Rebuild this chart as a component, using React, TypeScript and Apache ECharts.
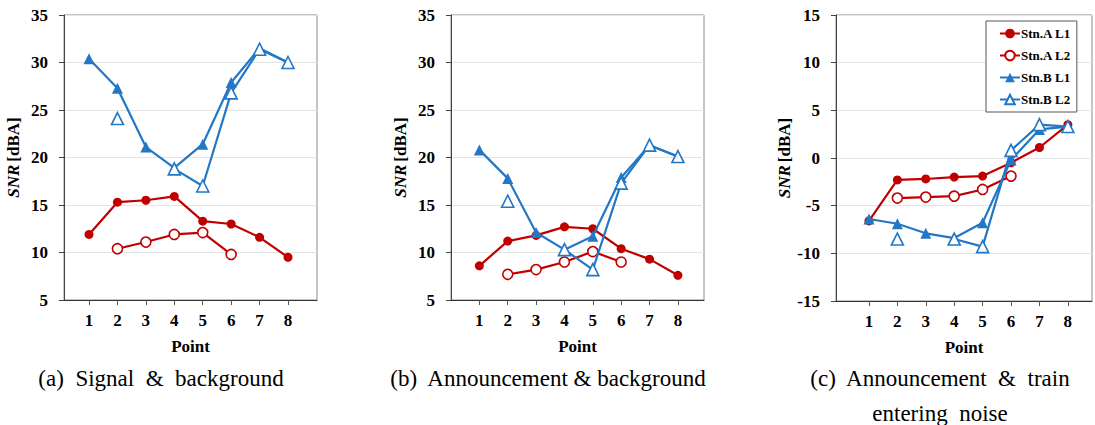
import React, { useEffect, useRef } from 'react';
import * as echarts from 'echarts';

const POINTS = [1, 2, 3, 4, 5, 6, 7, 8];
const SERIES_NAMES = ['Stn.A L1', 'Stn.A L2', 'Stn.B L1', 'Stn.B L2'];

// (a) Signal & background
const A_STN_A_L1 = [11.9, 15.3, 15.5, 15.9, 13.3, 13.0, 11.6, 9.5];
const A_STN_A_L2 = [null, 10.4, 11.1, 11.9, 12.1, 9.8, null, null];
const A_STN_B_L1 = [30.4, 27.3, 21.1, 18.9, 21.4, 27.9, 31.5, 30.0];
const A_STN_B_L2 = [null, 24.1, null, 18.8, 17.0, 26.8, 31.4, 30.0];

// (b) Announcement & background
const B_STN_A_L1 = [8.6, 11.2, 11.8, 12.7, 12.5, 10.4, 9.3, 7.6];
const B_STN_A_L2 = [null, 7.7, 8.2, 9.0, 10.1, 9.0, null, null];
const B_STN_B_L1 = [20.8, 17.8, 12.1, 10.3, 11.7, 17.9, 21.3, 20.1];
const B_STN_B_L2 = [null, 15.4, null, 10.3, 8.2, 17.3, 21.3, 20.1];

// (c) Announcement & train entering noise
const C_STN_A_L1 = [-6.6, -2.3, -2.2, -2.0, -1.9, -0.5, 1.1, 3.5];
const C_STN_A_L2 = [null, -4.2, -4.1, -4.0, -3.3, -1.9, null, null];
const C_STN_B_L1 = [-6.4, -6.9, -7.9, -8.4, -6.8, -0.2, 3.0, 3.3];
const C_STN_B_L2 = [null, -8.5, null, -8.5, -9.3, 0.8, 3.5, 3.3];

const PANEL_DATA = [
  [A_STN_A_L1, A_STN_A_L2, A_STN_B_L1, A_STN_B_L2],
  [B_STN_A_L1, B_STN_A_L2, B_STN_B_L1, B_STN_B_L2],
  [C_STN_A_L1, C_STN_A_L2, C_STN_B_L1, C_STN_B_L2],
];

const Y_MIN = [5, 5, -15];
const Y_MAX = [35, 35, 15];
const Y_INTERVAL = 5;

const X_NAME = 'Point';
const Y_NAME = '{i|SNR} {n|[dBA]}';
const CAPTIONS = [
  ['(a)  Signal  &  background'],
  ['(b)  Announcement & background'],
  ['(c)  Announcement  &  train', 'entering  noise'],
];

const RED = '#C00000';
const BLUE = '#2277C6';
const FONT = 'Times New Roman, Liberation Serif, serif';

const LAYOUT = [
  { left: 64, top: 15, width: 253, height: 285, xMin: 0.12, xMax: 9.02, cx: 161 },
  { left: 451, top: 15, width: 253, height: 285, xMin: 0.0, xMax: 8.92, cx: 548 },
  { left: 836, top: 15, width: 256, height: 286, xMin: -0.16, xMax: 8.85, cx: 940 },
];

const STYLES = [
  { color: RED, symbol: 'circle', size: 9, filled: true },
  { color: RED, symbol: 'circle', size: 10, filled: false },
  { color: BLUE, symbol: 'triangle', size: 11, filled: true },
  { color: BLUE, symbol: 'triangle', size: 12, filled: false },
];

export default function App() {
  const ref = useRef<HTMLDivElement>(null);

  useEffect(() => {
    if (!ref.current) return;
    const chart = echarts.init(ref.current, undefined, { renderer: 'svg' });

    const grid = LAYOUT.map((l) => ({
      left: l.left,
      top: l.top,
      width: l.width,
      height: l.height,
      show: true,
      borderColor: '#8a8a8a',
      borderWidth: 1,
      backgroundColor: '#fff',
    }));

    const xAxis = LAYOUT.map((l, i) => ({
      type: 'value',
      gridIndex: i,
      min: l.xMin,
      max: l.xMax,
      name: X_NAME,
      nameLocation: 'middle',
      nameGap: 38,
      nameTextStyle: { fontFamily: FONT, fontWeight: 'bold', fontSize: 17, color: '#000' },
      axisLine: { show: true, onZero: false, lineStyle: { color: '#333', width: 1 } },
      axisTick: {
        show: true,
        inside: false,
        length: 5,
        customValues: POINTS,
        lineStyle: { color: '#555' },
      },
      axisLabel: {
        customValues: POINTS,
        margin: 12,
        fontFamily: FONT,
        fontWeight: 'bold',
        fontSize: 17,
        color: '#000',
      },
      splitLine: { show: false },
    }));

    const yAxis = LAYOUT.map((l, i) => ({
      type: 'value',
      gridIndex: i,
      min: Y_MIN[i],
      max: Y_MAX[i],
      interval: Y_INTERVAL,
      name: Y_NAME,
      nameLocation: 'middle',
      nameGap: 42,
      nameTextStyle: {
        rich: {
          i: { fontFamily: FONT, fontWeight: 'bold', fontStyle: 'italic', fontSize: 17, color: '#000' },
          n: { fontFamily: FONT, fontWeight: 'bold', fontSize: 17, color: '#000' },
        },
      },
      axisLine: { show: true, onZero: false, lineStyle: { color: '#444', width: 1 } },
      axisTick: { show: true, inside: false, length: 5, lineStyle: { color: '#444' } },
      axisLabel: {
        margin: 16,
        fontFamily: FONT,
        fontWeight: 'bold',
        fontSize: 17,
        color: '#000',
      },
      splitLine: { show: true, lineStyle: { color: '#e4e4e4', width: 1 } },
    }));

    const series: any[] = [];
    PANEL_DATA.forEach((panel, gi) => {
      panel.forEach((vals, si) => {
        const st = STYLES[si];
        series.push({
          type: 'line',
          name: SERIES_NAMES[si],
          xAxisIndex: gi,
          yAxisIndex: gi,
          data: POINTS.map((p, k) => [p, vals[k] == null ? '-' : vals[k]]),
          connectNulls: false,
          symbol: st.symbol,
          symbolSize: st.size,
          showAllSymbol: true,
          lineStyle: { color: st.color, width: 2.2 },
          itemStyle: {
            color: st.filled ? st.color : '#fff',
            borderColor: st.color,
            borderWidth: st.filled ? 0 : 1.6,
          },
          emphasis: { disabled: true },
          z: 2 + si,
        });
      });
    });

    const graphic: any[] = [];
    CAPTIONS.forEach((lines, i) => {
      lines.forEach((t, j) => {
        graphic.push({
          type: 'text',
          x: LAYOUT[i].cx,
          y: 378 + j * 35,
          style: {
            text: t,
            fontFamily: FONT,
            fontSize: 23,
            fill: '#000',
            textAlign: 'center',
            textVerticalAlign: 'middle',
          },
        });
      });
    });

    chart.setOption({
      animation: false,
      backgroundColor: '#fff',
      textStyle: { fontFamily: FONT },
      grid,
      xAxis,
      yAxis,
      series,
      graphic,
      legend: {
        show: true,
        data: SERIES_NAMES,
        orient: 'vertical',
        left: 986,
        top: 21,
        width: 96,
        padding: [6, 6, 6, 13],
        itemGap: 9,
        itemWidth: 20,
        itemHeight: 12,
        backgroundColor: '#fff',
        borderColor: '#555',
        borderWidth: 1,
        borderRadius: 0,
        selectedMode: false,
        textStyle: { fontFamily: FONT, fontWeight: 'bold', fontSize: 13, color: '#000', padding: [0, 0, 0, -4] },
      },
    });

    return () => {
      chart.dispose();
    };
  }, []);

  return (
    <div
      ref={ref}
      style={{ position: 'fixed', left: 0, top: 0, width: 1095, height: 425, background: '#fff' }}
    />
  );
}
